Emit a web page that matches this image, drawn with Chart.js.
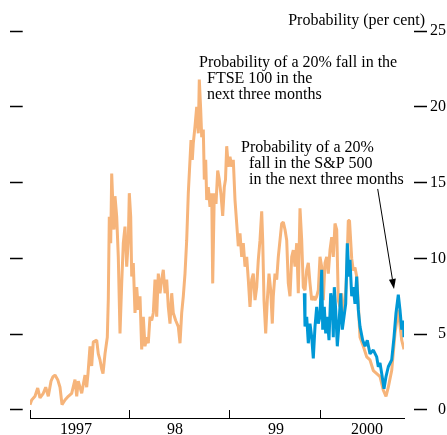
<!DOCTYPE html>
<html><head><meta charset="utf-8">
<script src="https://cdn.jsdelivr.net/npm/chart.js@4.4.1/dist/chart.umd.min.js"></script>
<style>html,body{margin:0;padding:0;background:#fff;overflow:hidden}</style>
</head><body>
<canvas id="c" width="447" height="435"></canvas>
<script>
// ---- data (decimal years / per cent) ----
const ftseDates = [
1997.000,1997.017,1997.050,1997.077,1997.100,1997.133,1997.157,1997.183,1997.210,1997.230,
1997.250,1997.277,1997.300,1997.320,1997.350,1997.383,1997.417,1997.450,1997.467,1997.483,
1997.517,1997.550,1997.567,1997.580,1997.600,1997.617,1997.633,1997.667,1997.683,1997.700,
1997.717,1997.730,1997.750,1997.773,1997.783,1997.793,1997.807,1997.817,1997.827,1997.840,
1997.850,1997.867,1997.883,1997.900,1997.917,1997.933,1997.950,1997.967,1997.983,1997.993,
1998.007,1998.017,1998.033,1998.050,1998.067,1998.083,1998.100,1998.117,1998.133,1998.150,
1998.167,1998.183,1998.200,1998.217,1998.233,1998.250,1998.267,1998.283,1998.300,1998.317,
1998.333,1998.350,1998.367,1998.383,1998.400,1998.417,1998.433,1998.457,1998.483,1998.500,
1998.517,1998.533,1998.550,1998.567,1998.583,1998.600,1998.610,1998.623,1998.633,1998.650,
1998.667,1998.683,1998.693,1998.707,1998.717,1998.733,1998.743,1998.757,1998.767,1998.783,
1998.800,1998.817,1998.827,1998.843,1998.860,1998.877,1998.893,1998.910,1998.927,1998.943,
1998.955,1998.967,1998.983,1999.000,1999.017,1999.033,1999.050,1999.067,1999.083,1999.100,
1999.117,1999.133,1999.150,1999.167,1999.183,1999.200,1999.217,1999.233,1999.250,1999.267,
1999.283,1999.300,1999.317,1999.327,1999.340,1999.357,1999.373,1999.390,1999.407,1999.423,
1999.433,1999.450,1999.467,1999.483,1999.500,1999.517,1999.533,1999.550,1999.567,1999.583,
1999.600,1999.617,1999.633,1999.650,1999.667,1999.683,1999.700,1999.717,1999.733,1999.750,
1999.767,1999.783,1999.800,1999.817,1999.833,1999.850,1999.867,1999.883,1999.900,1999.917,
1999.933,1999.950,1999.967,1999.983,2000.000,2000.017,2000.033,2000.050,2000.067,2000.083,
2000.100,2000.117,2000.133,2000.150,2000.167,2000.183,2000.195,2000.217,2000.233,2000.250,
2000.267,2000.283,2000.300,2000.333,2000.367,2000.400,2000.433,2000.467,2000.500,2000.533,
2000.560,2000.583,2000.617,2000.650,2000.683,2000.717,2000.740];
const ftseValues = [
0.35,0.66,0.9,1.45,0.8,1.1,1.5,0.9,1.9,2.2,
2.3,2.0,1.5,0.35,0.66,0.9,1.1,2.0,0.9,1.9,
1.1,2.3,1.5,2.4,4.2,2.9,4.5,4.6,3.7,3.3,
2.7,2.4,3.7,4.8,7.3,12.75,11.0,15.6,13.85,11.9,
14.1,12.75,10.1,5.05,8.35,11.0,12.1,9.45,11.2,14.3,
12.75,8.8,9.7,6.4,8.1,6.6,7.5,4.0,6.15,4.2,
4.8,4.4,6.15,5.9,6.4,8.6,6.15,9.0,7.7,8.6,
9.25,7.7,8.6,6.8,5.7,7.7,6.4,5.9,5.5,4.4,
6.4,7.5,9.0,11.2,14.3,16.5,17.8,16.5,17.6,18.7,
20.0,18.25,21.8,19.8,18.0,18.5,15.2,16.5,13.85,14.7,
13.4,14.3,8.35,14.3,13.6,15.8,15.2,14.2,12.8,14.7,
15.2,17.4,16.05,16.7,16.05,16.5,13.85,12.3,10.8,11.65,
10.1,11.0,9.45,10.1,8.6,6.8,8.6,9.0,7.25,8.1,
9.9,11.2,13.1,11.2,7.25,5.05,7.25,9.0,7.9,5.7,
7.5,9.0,8.6,10.1,11.2,12.3,12.4,11.9,11.2,8.35,
7.5,10.1,10.55,9.45,11.0,7.7,13.3,11.2,8.1,7.9,
9.25,9.7,8.35,7.25,7.5,7.25,7.5,7.9,10.1,9.45,
7.25,9.7,10.1,9.0,10.55,11.4,10.1,12.3,11.9,7.25,
6.8,7.7,6.15,7.0,9.0,12.5,12.5,10.0,9.2,9.4,
8.8,7.0,4.8,4.2,3.5,3.3,2.6,2.4,2.2,1.3,
0.9,1.5,2.6,5.05,6.6,4.6,4.0];
const spDates = [
1999.743,1999.750,1999.767,1999.783,1999.800,1999.817,1999.833,1999.850,1999.867,1999.883,
1999.900,1999.917,1999.927,1999.943,1999.957,1999.973,1999.990,2000.007,2000.023,2000.033,
2000.043,2000.057,2000.073,2000.090,2000.107,2000.123,2000.140,2000.157,2000.173,2000.190,
2000.200,2000.217,2000.233,2000.250,2000.267,2000.283,2000.300,2000.327,2000.350,2000.373,
2000.400,2000.433,2000.467,2000.483,2000.500,2000.517,2000.540,2000.560,2000.583,2000.617,
2000.640,2000.660,2000.683,2000.700,2000.717,2000.733,2000.740];
const spValues = [
7.7,5.5,6.15,4.4,5.7,4.8,3.4,5.5,6.8,5.7,
6.15,9.25,5.3,6.8,5.05,6.15,4.6,7.7,7.0,4.8,
8.1,6.6,4.2,5.7,7.7,5.3,6.15,7.0,11.0,8.8,
9.9,7.5,8.1,7.0,8.8,6.6,5.5,4.6,4.2,4.6,
3.7,3.95,3.5,2.85,3.1,2.4,1.4,2.2,2.85,3.3,
4.8,6.4,7.6,6.6,5.3,5.9,4.8];

// ---- axes ----
const yearBoundaries = [1997.0, 1998.0, 1998.993, 1999.907];
const yearLabelAt = [1997.46, 1998.45, 1999.46, 2000.37];
const yearLabels = ['1997', '98', '99', '2000'];
const yTicks = [0, 5, 10, 15, 20, 25];
const unitLabel = 'Probability (per cent)';
const ftseNote = ['Probability of a 20% fall in the', 'FTSE 100 in the', 'next three months'];
const spNote = ['Probability of a 20%', 'fall in the S&P 500', 'in the next three months'];

const SERIF = '"Liberation Serif", "Times New Roman", serif';
const ORANGE = 'rgb(246,180,122)';
const BLUE = 'rgb(0,152,214)';

const toXY = (xs, ys) => xs.map((d, i) => ({x: d, y: ys[i]}));

const notePlugin = {
  id: 'notes',
  afterDatasetsDraw(chart) {
    const {ctx, chartArea} = chart;
    const x = chart.scales.x, y = chart.scales.y2;
    ctx.save();
    ctx.font = '16px ' + SERIF;
    ctx.fillStyle = '#000';
    // year labels, centred between the year boundary ticks
    ctx.textAlign = 'center';
    ctx.textBaseline = 'middle';
    yearLabels.forEach((t, i) => ctx.fillText(t, x.getPixelForValue(yearLabelAt[i]), chartArea.bottom + 12));
    ctx.textBaseline = 'alphabetic';
    ctx.textAlign = 'right';
    ctx.fillText(unitLabel, chartArea.right + 21, y.getPixelForValue(25) - 6);
    ctx.textAlign = 'left';
    const drawNote = (lines, xv, yv, indent) => {
      const px = x.getPixelForValue(xv), py = y.getPixelForValue(yv);
      lines.forEach((t, i) => ctx.fillText(t, px + (i ? indent : 0), py + i * 15.8));
    };
    drawNote(ftseNote, 1998.69, 22.6, 8);
    drawNote(spNote, 1999.11, 17.0, 8);
    // arrow
    const x1 = x.getPixelForValue(2000.477), y1 = y.getPixelForValue(14.58);
    const x2 = x.getPixelForValue(2000.64), y2 = y.getPixelForValue(7.98);
    const ang = Math.atan2(y2 - y1, x2 - x1);
    const hl = 10, hw = 3.5;
    const bx = x2 - hl * Math.cos(ang), by = y2 - hl * Math.sin(ang);
    ctx.strokeStyle = '#000';
    ctx.lineWidth = 1;
    ctx.beginPath(); ctx.moveTo(x1, y1); ctx.lineTo(bx, by); ctx.stroke();
    ctx.beginPath();
    ctx.moveTo(x2, y2);
    ctx.lineTo(bx + hw * Math.sin(ang), by - hw * Math.cos(ang));
    ctx.lineTo(bx - hw * Math.sin(ang), by + hw * Math.cos(ang));
    ctx.closePath(); ctx.fill();
    ctx.restore();
  }
};

new Chart(document.getElementById('c'), {
  type: 'line',
  data: {
    datasets: [
      {label: 'FTSE 100', data: toXY(ftseDates, ftseValues), borderColor: ORANGE, borderWidth: 3,
       pointRadius: 0, tension: 0, borderJoinStyle: 'bevel', order: 2, yAxisID: 'y2'},
      {label: 'S&P 500', data: toXY(spDates, spValues), borderColor: BLUE, borderWidth: 3,
       pointRadius: 0, tension: 0, borderJoinStyle: 'bevel', order: 1, yAxisID: 'y2'}
    ]
  },
  options: {
    responsive: false, animation: false, devicePixelRatio: 1,
    layout: {padding: {left: 10, right: 1, top: 31, bottom: 0}},
    plugins: {legend: {display: false}, tooltip: {enabled: false}},
    scales: {
      x: {
        type: 'linear', min: 1997.0, max: 2000.74,
        afterBuildTicks: s => { s.ticks = yearBoundaries.map(v => ({value: v})); },
        afterFit: s => { s.height = 17; },
        ticks: {display: false},
        grid: {drawTicks: false, lineWidth: 1, color: '#000'},
        border: {display: true, color: '#000', width: 1, dash: [0, 379, 8, 1000]}
      },
      y: {
        position: 'left', min: -0.53, max: 25,
        afterBuildTicks: s => { s.ticks = yTicks.map(v => ({value: v})); },
        ticks: {display: false},
        grid: {drawOnChartArea: false, drawTicks: true, tickLength: 20, color: '#000',
               tickColor: '#000', tickWidth: 1.5, tickBorderDash: [12.7, 100]},
        border: {display: false}
      },
      y2: {
        position: 'right', min: -0.53, max: 25,
        afterBuildTicks: s => { s.ticks = yTicks.map(v => ({value: v})); },
        afterFit: s => { s.width = 42; },
        ticks: {display: true, crossAlign: 'far', padding: 2, color: '#000',
                font: {family: SERIF, size: 16, lineHeight: 0.69}},
        grid: {drawOnChartArea: false, drawTicks: true, tickLength: 23, color: '#000',
               tickColor: '#000', tickWidth: 1.5, tickBorderDash: [0, 10, 13, 100]},
        border: {display: false}
      }
    }
  },
  plugins: [notePlugin]
});
</script>
</body></html>
